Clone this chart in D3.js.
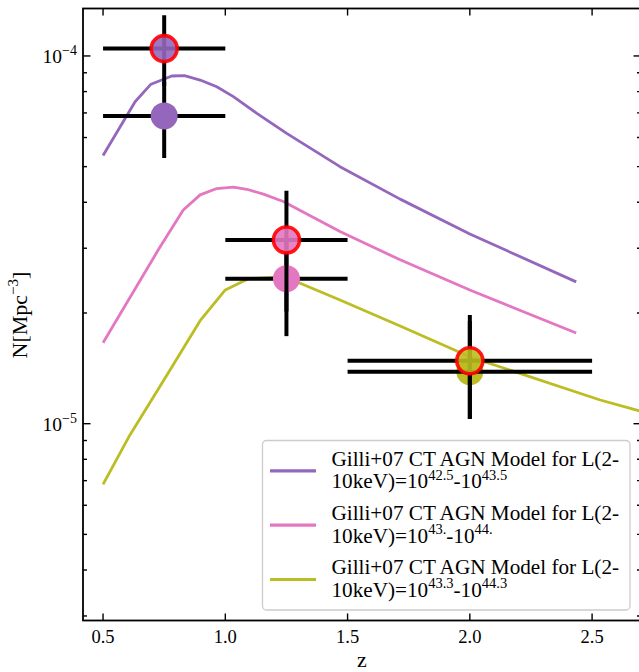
<!DOCTYPE html>
<html>
<head>
<meta charset="utf-8">
<script src="https://cdn.jsdelivr.net/npm/d3@7"></script>
<style>
  html, body { margin: 0; padding: 0; background: #fff; }
  svg { display: block; }
  text { font-family: "Liberation Serif", "Times New Roman", "DejaVu Serif", serif; fill: #000; }
</style>
</head>
<body>
<svg id="chart" width="639" height="672"></svg>
<script>
// ---------------- data ----------------
const seriesNames = ["purple", "pink", "olive"];
const seriesColors = ["#9467bd", "#e377c2", "#bcbd22"];

const purpleZ = [0.5, 0.631, 0.696, 0.781, 0.833, 0.897, 0.965, 1.033, 1.129, 1.251, 1.469, 1.715, 2.0, 2.435];
const purpleN = [5.36e-5, 7.51e-5, 8.38e-5, 8.82e-5, 8.84e-5, 8.60e-5, 8.25e-5, 7.75e-5, 6.98e-5, 6.16e-5, 5.00e-5, 4.08e-5, 3.28e-5, 2.43e-5];

const pinkZ = [0.5, 0.726, 0.828, 0.897, 0.965, 1.033, 1.088, 1.156, 1.237, 1.469, 1.715, 2.0, 2.435];
const pinkN = [1.66e-5, 2.97e-5, 3.81e-5, 4.19e-5, 4.36e-5, 4.40e-5, 4.34e-5, 4.21e-5, 4.02e-5, 3.33e-5, 2.79e-5, 2.31e-5, 1.764e-5];

const oliveZ = [0.5, 0.610, 0.774, 0.897, 1.0, 1.094, 1.194, 1.306, 1.469, 1.715, 2.0, 2.533, 2.8];
const oliveN = [6.84e-6, 9.32e-6, 1.40e-5, 1.906e-5, 2.31e-5, 2.48e-5, 2.50e-5, 2.41e-5, 2.17e-5, 1.844e-5, 1.52e-5, 1.16e-5, 1.036e-5];

// measured points (one per series / redshift bin)
const pointZ = [0.75, 1.25, 2.0];
const pointZErr = [0.25, 0.25, 0.5];
const ringN = [1.047e-4, 3.16e-5, 1.483e-5];
const ringLo = [8.3e-5, 2.02e-5, 1.03e-5];
const ringHi = [1.29e-4, 4.30e-5, 1.975e-5];
const dotN = [6.87e-5, 2.48e-5, 1.384e-5];
const dotLo = [5.28e-5, 1.73e-5, 1.03e-5];
const dotHi = [8.5e-5, 3.23e-5, 1.9e-5];

const legendPrefix = "Gilli+07 CT AGN Model for L(2-";
const legendLo = ["42.5", "43.", "43.3"];
const legendHi = ["43.5", "44.", "44.3"];

const xTicks = [0.5, 1.0, 1.5, 2.0, 2.5];
const yMajor = [1e-5, 1e-4];
const yExp = ["−5", "−4"];
const xLabel = "z";

// ---------------- layout ----------------
const svg = d3.select("#chart");
const plot = { left: 83, right: 641, top: 8.5, bottom: 620.5 };

const x = d3.scaleLinear().domain([0.418, 2.7]).range([plot.left, plot.right]);
const y = d3.scaleLog().domain([2.916e-6, 1.346e-4]).range([plot.bottom, plot.top]);

svg.append("rect").attr("width", 639).attr("height", 672).attr("fill", "#fff");

svg.append("defs").append("clipPath").attr("id", "clip")
  .append("rect").attr("x", plot.left).attr("y", plot.top)
  .attr("width", plot.right - plot.left).attr("height", plot.bottom - plot.top);

const g = svg.append("g").attr("clip-path", "url(#clip)");

// model curves
const curves = [
  purpleZ.map((z, i) => [z, purpleN[i]]),
  pinkZ.map((z, i) => [z, pinkN[i]]),
  oliveZ.map((z, i) => [z, oliveN[i]])
];
const line = d3.line().x(d => x(d[0])).y(d => y(d[1]));
curves.forEach((c, i) => {
  g.append("path").attr("d", line(c)).attr("fill", "none")
    .attr("stroke", seriesColors[i]).attr("stroke-width", 2.8)
    .attr("stroke-linejoin", "round");
});

function errorbar(i, n, lo, hi) {
  g.append("line").attr("x1", x(pointZ[i] - pointZErr[i])).attr("x2", x(pointZ[i] + pointZErr[i]))
    .attr("y1", y(n)).attr("y2", y(n)).attr("stroke", "#000").attr("stroke-width", 4);
  g.append("line").attr("x1", x(pointZ[i])).attr("x2", x(pointZ[i]))
    .attr("y1", y(lo)).attr("y2", y(hi)).attr("stroke", "#000").attr("stroke-width", 4);
}
function dot(i) {
  g.append("circle").attr("cx", x(pointZ[i])).attr("cy", y(dotN[i])).attr("r", 13.5)
    .attr("fill", seriesColors[i]);
}

// draw order as in reference
dot(2);
pointZ.forEach((z, i) => errorbar(i, dotN[i], dotLo[i], dotHi[i]));
dot(0); dot(1);
pointZ.forEach((z, i) => errorbar(i, ringN[i], ringLo[i], ringHi[i]));
pointZ.forEach((z, i) => {
  g.append("circle").attr("cx", x(z)).attr("cy", y(ringN[i])).attr("r", 13)
    .attr("fill", seriesColors[i]).attr("fill-opacity", 0.9)
    .attr("stroke", "#ff0000").attr("stroke-width", 3.6).attr("stroke-opacity", 0.9);
});

// ---------------- axes ----------------
const axes = svg.append("g");
const tickW = 1.4;
// spines
axes.append("rect").attr("x", plot.left).attr("y", plot.top)
  .attr("width", plot.right - plot.left).attr("height", plot.bottom - plot.top)
  .attr("fill", "none").attr("stroke", "#000").attr("stroke-width", 1.8);

// x ticks (inward, bottom & top)
xTicks.forEach(t => {
  const px = x(t);
  axes.append("line").attr("x1", px).attr("x2", px).attr("y1", plot.bottom).attr("y2", plot.bottom - 7)
    .attr("stroke", "#000").attr("stroke-width", tickW);
  axes.append("line").attr("x1", px).attr("x2", px).attr("y1", plot.top).attr("y2", plot.top + 7)
    .attr("stroke", "#000").attr("stroke-width", tickW);
  axes.append("text").attr("x", px).attr("y", 643).attr("text-anchor", "middle")
    .attr("font-size", 18.5).text(t.toFixed(1));
});

// y ticks: major & minor (log)
const yMinor = [];
[-6, -5, -4].forEach(e => {
  for (let m = 2; m <= 9; m++) {
    const v = m * Math.pow(10, e);
    if (v >= y.domain()[0] && v <= y.domain()[1]) yMinor.push(v);
  }
});
yMinor.forEach(v => {
  const py = y(v);
  axes.append("line").attr("x1", plot.left).attr("x2", plot.left + 4).attr("y1", py).attr("y2", py)
    .attr("stroke", "#000").attr("stroke-width", tickW);
  axes.append("line").attr("x1", plot.right).attr("x2", plot.right - 4).attr("y1", py).attr("y2", py)
    .attr("stroke", "#000").attr("stroke-width", tickW);
});
yMajor.forEach((v, i) => {
  const py = y(v);
  axes.append("line").attr("x1", plot.left).attr("x2", plot.left + 7.5).attr("y1", py).attr("y2", py)
    .attr("stroke", "#000").attr("stroke-width", tickW);
  axes.append("line").attr("x1", plot.right).attr("x2", plot.right - 7.5).attr("y1", py).attr("y2", py)
    .attr("stroke", "#000").attr("stroke-width", tickW);
  const t = axes.append("text").attr("x", 77).attr("y", py + 7).attr("text-anchor", "end").attr("font-size", 19.5);
  t.append("tspan").text("10");
  t.append("tspan").attr("font-size", 14).attr("dy", -8).text(yExp[i]);
});

// axis labels
axes.append("text").attr("x", 362).attr("y", 667).attr("text-anchor", "middle")
  .attr("font-size", 22).text(xLabel);
const yl = axes.append("text").attr("transform", "translate(27,315) rotate(-90)")
  .attr("text-anchor", "middle").attr("font-size", 22);
yl.append("tspan").text("N[Mpc");
yl.append("tspan").attr("font-size", 15).attr("dy", -9).text("−3");
yl.append("tspan").attr("dy", 9).text("]");

// ---------------- legend ----------------
const lg = svg.append("g");
lg.append("rect").attr("x", 262.5).attr("y", 440.5).attr("width", 367.5).attr("height", 169.5)
  .attr("rx", 4).attr("fill", "#fff").attr("fill-opacity", 0.8)
  .attr("stroke", "#cccccc").attr("stroke-width", 1.3);
seriesNames.forEach((s, i) => {
  const base = 465.7 + i * 54.3;
  lg.append("line").attr("x1", 270).attr("x2", 316).attr("y1", base + 5.2).attr("y2", base + 5.2)
    .attr("stroke", seriesColors[i]).attr("stroke-width", 3.2);
  const t = lg.append("text").attr("x", 331.5).attr("y", base).attr("font-size", 21.2);
  t.append("tspan").attr("x", 331.5).text(legendPrefix);
  t.append("tspan").attr("x", 331.5).attr("dy", 22.6).text("10keV)=10");
  t.append("tspan").attr("font-size", 14.5).attr("dy", -8.5).text(legendLo[i]);
  t.append("tspan").attr("dy", 8.5).text("-10");
  t.append("tspan").attr("font-size", 14.5).attr("dy", -8.5).text(legendHi[i]);
});
</script>
</body>
</html>
